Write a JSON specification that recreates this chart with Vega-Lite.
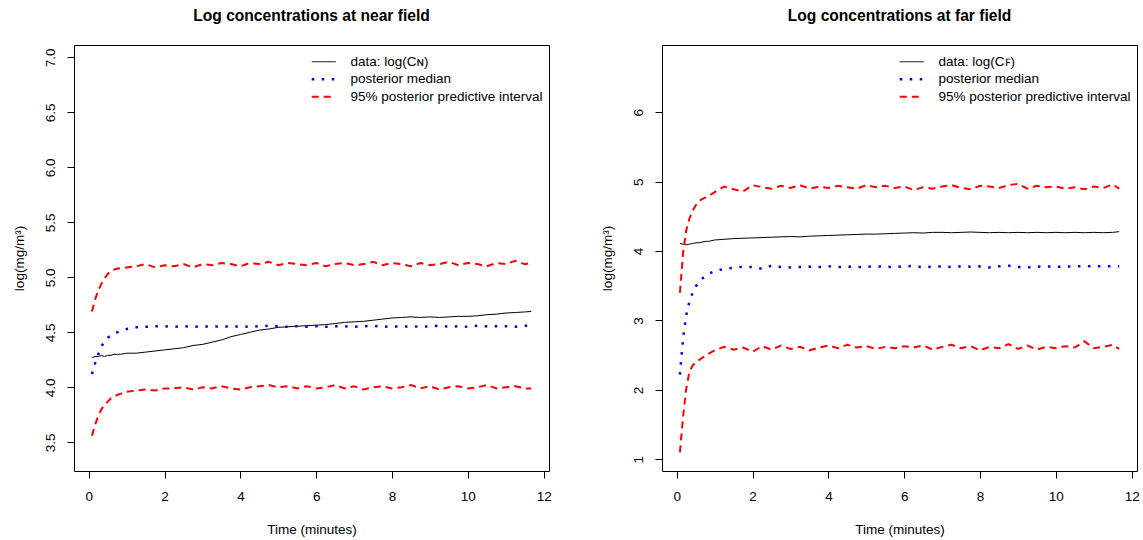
{
  "$schema": "https://vega.github.io/schema/vega-lite/v6.json",
  "padding": {"left": 11, "top": 8, "right": 2, "bottom": 0},
  "background": "white",
  "spacing": 47,
  "config": {
    "view": {"stroke": "black", "strokeWidth": 1},
    "font": "Liberation Sans",
    "title": {"font": "Liberation Sans", "fontSize": 15.6, "fontWeight": "bold", "color": "black", "offset": 20},
    "axis": {"labelFont": "Liberation Sans", "labelFontSize": 13.5, "labelColor": "black", "titleFont": "Liberation Sans", "titleFontSize": 13.5, "titleFontWeight": "normal", "titleColor": "black", "tickColor": "black", "tickSize": 7, "domain": false, "grid": false, "labelFlush": false, "labelOverlap": false},
    "axisX": {"labelPadding": 11, "titlePadding": 20},
    "axisY": {"labelAngle": -90, "labelAlign": "center", "labelBaseline": "bottom", "labelPadding": 10, "titlePadding": 17},
    "legend": {"orient": "none", "labelFont": "Liberation Sans", "labelFontSize": 13.5, "labelColor": "black", "labelLimit": 0, "padding": 0, "rowPadding": 2.5, "symbolType": "M-2.4,0H2.4", "symbolSize": 100, "labelOffset": 20}
  },
  "resolve": {"scale": {"color": "independent"}, "legend": {"color": "independent"}},
  "hconcat": [
    {
      "width": 475,
      "height": 426,
      "title": "Log concentrations at near field",
      "data": {"values": [
        {"t": 0.083, "data": 4.27, "median": 4.12, "lo": 3.56, "hi": 4.69},
        {"t": 0.167, "data": 4.28, "median": 4.22, "lo": 3.66, "hi": 4.80},
        {"t": 0.25, "data": 4.28, "median": 4.30, "lo": 3.74, "hi": 4.88},
        {"t": 0.333, "data": 4.29, "median": 4.37, "lo": 3.80, "hi": 4.94},
        {"t": 0.417, "data": 4.28, "median": 4.42, "lo": 3.84, "hi": 4.99},
        {"t": 0.5, "data": 4.29, "median": 4.45, "lo": 3.87, "hi": 5.03},
        {"t": 0.583, "data": 4.29, "median": 4.47, "lo": 3.90, "hi": 5.06},
        {"t": 0.667, "data": 4.30, "median": 4.49, "lo": 3.92, "hi": 5.07},
        {"t": 0.75, "data": 4.30, "median": 4.50, "lo": 3.93, "hi": 5.08},
        {"t": 0.833, "data": 4.30, "median": 4.51, "lo": 3.94, "hi": 5.08},
        {"t": 1.0, "data": 4.31, "median": 4.53, "lo": 3.96, "hi": 5.09},
        {"t": 1.25, "data": 4.31, "median": 4.545, "lo": 3.97, "hi": 5.10},
        {"t": 1.5, "data": 4.32, "median": 4.55, "lo": 3.98, "hi": 5.12},
        {"t": 1.75, "data": 4.33, "median": 4.555, "lo": 3.97, "hi": 5.09},
        {"t": 2.0, "data": 4.34, "median": 4.555, "lo": 3.99, "hi": 5.11},
        {"t": 2.25, "data": 4.35, "median": 4.55, "lo": 3.99, "hi": 5.10},
        {"t": 2.5, "data": 4.36, "median": 4.555, "lo": 4.00, "hi": 5.12},
        {"t": 2.75, "data": 4.38, "median": 4.55, "lo": 3.98, "hi": 5.09},
        {"t": 3.0, "data": 4.39, "median": 4.555, "lo": 4.00, "hi": 5.12},
        {"t": 3.25, "data": 4.41, "median": 4.55, "lo": 3.99, "hi": 5.11},
        {"t": 3.5, "data": 4.43, "median": 4.555, "lo": 4.01, "hi": 5.13},
        {"t": 3.75, "data": 4.46, "median": 4.55, "lo": 3.99, "hi": 5.12},
        {"t": 4.0, "data": 4.48, "median": 4.555, "lo": 3.98, "hi": 5.10},
        {"t": 4.25, "data": 4.50, "median": 4.55, "lo": 4.00, "hi": 5.13},
        {"t": 4.5, "data": 4.52, "median": 4.555, "lo": 4.01, "hi": 5.12},
        {"t": 4.75, "data": 4.53, "median": 4.56, "lo": 4.02, "hi": 5.14},
        {"t": 5.0, "data": 4.545, "median": 4.555, "lo": 4.00, "hi": 5.11},
        {"t": 5.25, "data": 4.55, "median": 4.55, "lo": 4.01, "hi": 5.13},
        {"t": 5.5, "data": 4.555, "median": 4.555, "lo": 3.99, "hi": 5.12},
        {"t": 5.75, "data": 4.56, "median": 4.55, "lo": 4.01, "hi": 5.11},
        {"t": 6.0, "data": 4.565, "median": 4.555, "lo": 3.99, "hi": 5.13},
        {"t": 6.25, "data": 4.57, "median": 4.55, "lo": 4.00, "hi": 5.10},
        {"t": 6.5, "data": 4.58, "median": 4.555, "lo": 4.02, "hi": 5.12},
        {"t": 6.75, "data": 4.59, "median": 4.555, "lo": 3.99, "hi": 5.13},
        {"t": 7.0, "data": 4.595, "median": 4.55, "lo": 4.01, "hi": 5.11},
        {"t": 7.25, "data": 4.60, "median": 4.555, "lo": 3.98, "hi": 5.12},
        {"t": 7.5, "data": 4.61, "median": 4.56, "lo": 4.00, "hi": 5.14},
        {"t": 7.75, "data": 4.62, "median": 4.55, "lo": 4.01, "hi": 5.11},
        {"t": 8.0, "data": 4.63, "median": 4.555, "lo": 3.99, "hi": 5.13},
        {"t": 8.25, "data": 4.635, "median": 4.55, "lo": 4.00, "hi": 5.12},
        {"t": 8.5, "data": 4.64, "median": 4.555, "lo": 4.02, "hi": 5.10},
        {"t": 8.75, "data": 4.635, "median": 4.55, "lo": 3.99, "hi": 5.13},
        {"t": 9.0, "data": 4.64, "median": 4.555, "lo": 4.01, "hi": 5.11},
        {"t": 9.25, "data": 4.635, "median": 4.56, "lo": 3.98, "hi": 5.12},
        {"t": 9.5, "data": 4.64, "median": 4.55, "lo": 4.00, "hi": 5.14},
        {"t": 9.75, "data": 4.645, "median": 4.555, "lo": 4.01, "hi": 5.11},
        {"t": 10.0, "data": 4.645, "median": 4.55, "lo": 3.99, "hi": 5.13},
        {"t": 10.25, "data": 4.65, "median": 4.56, "lo": 4.00, "hi": 5.12},
        {"t": 10.5, "data": 4.66, "median": 4.555, "lo": 4.02, "hi": 5.10},
        {"t": 10.75, "data": 4.665, "median": 4.555, "lo": 3.99, "hi": 5.13},
        {"t": 11.0, "data": 4.675, "median": 4.555, "lo": 4.00, "hi": 5.12},
        {"t": 11.25, "data": 4.68, "median": 4.55, "lo": 4.01, "hi": 5.15},
        {"t": 11.5, "data": 4.685, "median": 4.56, "lo": 3.99, "hi": 5.12},
        {"t": 11.67, "data": 4.69, "median": 4.56, "lo": 3.99, "hi": 5.13}
      ]},
      "transform": [{"fold": ["data", "median", "lo", "hi"], "as": ["series", "v"]}],
      "encoding": {
        "x": {"field": "t", "type": "quantitative", "scale": {"domain": [-0.39, 12.14], "nice": false, "zero": false}, "axis": {"values": [0, 2, 4, 6, 8, 10, 12], "title": "Time (minutes)"}},
        "y": {"field": "v", "type": "quantitative", "scale": {"domain": [3.239, 7.112], "nice": false, "zero": false}, "axis": {"values": [3.5, 4.0, 4.5, 5.0, 5.5, 6.0, 6.5, 7.0], "format": ".1f", "title": "log(mg/m³)"}},
        "color": {"field": "series", "type": "nominal", "scale": {"domain": ["data", "median", "hi", "lo"], "range": ["#000000", "#0000ff", "#ff0000", "#ff0000"]},
          "legend": {"title": null, "values": ["data", "median", "hi"], "legendX": 243, "legendY": 10,
            "labelExpr": "datum.value === 'data' ? 'data: log(Cɴ)' : datum.value === 'median' ? 'posterior median' : '95% posterior predictive interval'",
            "encode": {"symbols": {"update": {"strokeDash": {"signal": "datum.value === 'median' ? [2.5,7.5] : datum.value === 'hi' ? [7,5] : [1,0]"}, "strokeWidth": {"signal": "datum.value === 'median' ? 2.5 : datum.value === 'hi' ? 2 : 1"}, "fill": {"value": "transparent"}}}}}}
      },
      "layer": [
        {"transform": [{"filter": "datum.series === 'data'"}], "mark": {"type": "line", "strokeWidth": 1}},
        {"transform": [{"filter": "datum.series === 'median'"}], "mark": {"type": "line", "strokeWidth": 2.5, "strokeDash": [2.5, 7.5]}},
        {"transform": [{"filter": "datum.series === 'lo' || datum.series === 'hi'"}], "mark": {"type": "line", "strokeWidth": 2, "strokeDash": [7, 5]}}
      ]
    },
    {
      "width": 475,
      "height": 426,
      "title": "Log concentrations at far field",
      "data": {"values": [
        {"t": 0.083, "data": 4.11, "median": 2.22, "lo": 1.10, "hi": 3.40},
        {"t": 0.167, "data": 4.10, "median": 2.75, "lo": 1.62, "hi": 3.98},
        {"t": 0.25, "data": 4.09, "median": 3.08, "lo": 2.02, "hi": 4.30},
        {"t": 0.333, "data": 4.10, "median": 3.27, "lo": 2.26, "hi": 4.47},
        {"t": 0.417, "data": 4.11, "median": 3.40, "lo": 2.35, "hi": 4.58},
        {"t": 0.5, "data": 4.12, "median": 3.49, "lo": 2.40, "hi": 4.66},
        {"t": 0.583, "data": 4.12, "median": 3.55, "lo": 2.43, "hi": 4.72},
        {"t": 0.667, "data": 4.13, "median": 3.60, "lo": 2.46, "hi": 4.75},
        {"t": 0.75, "data": 4.14, "median": 3.64, "lo": 2.49, "hi": 4.77},
        {"t": 0.833, "data": 4.14, "median": 3.67, "lo": 2.52, "hi": 4.79},
        {"t": 1.0, "data": 4.16, "median": 3.71, "lo": 2.57, "hi": 4.85},
        {"t": 1.25, "data": 4.17, "median": 3.745, "lo": 2.62, "hi": 4.93},
        {"t": 1.5, "data": 4.18, "median": 3.76, "lo": 2.58, "hi": 4.89},
        {"t": 1.75, "data": 4.185, "median": 3.775, "lo": 2.61, "hi": 4.86},
        {"t": 2.0, "data": 4.19, "median": 3.77, "lo": 2.55, "hi": 4.95},
        {"t": 2.25, "data": 4.195, "median": 3.745, "lo": 2.63, "hi": 4.92},
        {"t": 2.5, "data": 4.20, "median": 3.79, "lo": 2.58, "hi": 4.90},
        {"t": 2.75, "data": 4.205, "median": 3.77, "lo": 2.64, "hi": 4.94},
        {"t": 3.0, "data": 4.21, "median": 3.765, "lo": 2.59, "hi": 4.91},
        {"t": 3.25, "data": 4.205, "median": 3.77, "lo": 2.62, "hi": 4.95},
        {"t": 3.5, "data": 4.215, "median": 3.775, "lo": 2.57, "hi": 4.90},
        {"t": 3.75, "data": 4.22, "median": 3.77, "lo": 2.61, "hi": 4.93},
        {"t": 4.0, "data": 4.225, "median": 3.78, "lo": 2.64, "hi": 4.91},
        {"t": 4.25, "data": 4.23, "median": 3.77, "lo": 2.60, "hi": 4.94},
        {"t": 4.5, "data": 4.235, "median": 3.775, "lo": 2.65, "hi": 4.92},
        {"t": 4.75, "data": 4.24, "median": 3.77, "lo": 2.61, "hi": 4.90},
        {"t": 5.0, "data": 4.245, "median": 3.775, "lo": 2.63, "hi": 4.95},
        {"t": 5.25, "data": 4.245, "median": 3.78, "lo": 2.59, "hi": 4.92},
        {"t": 5.5, "data": 4.25, "median": 3.775, "lo": 2.62, "hi": 4.94},
        {"t": 5.75, "data": 4.255, "median": 3.77, "lo": 2.60, "hi": 4.91},
        {"t": 6.0, "data": 4.26, "median": 3.78, "lo": 2.63, "hi": 4.93},
        {"t": 6.25, "data": 4.265, "median": 3.785, "lo": 2.61, "hi": 4.88},
        {"t": 6.5, "data": 4.26, "median": 3.765, "lo": 2.64, "hi": 4.92},
        {"t": 6.75, "data": 4.27, "median": 3.775, "lo": 2.58, "hi": 4.90},
        {"t": 7.0, "data": 4.27, "median": 3.78, "lo": 2.62, "hi": 4.93},
        {"t": 7.25, "data": 4.265, "median": 3.77, "lo": 2.65, "hi": 4.95},
        {"t": 7.5, "data": 4.27, "median": 3.78, "lo": 2.60, "hi": 4.91},
        {"t": 7.75, "data": 4.275, "median": 3.775, "lo": 2.63, "hi": 4.89},
        {"t": 8.0, "data": 4.27, "median": 3.78, "lo": 2.57, "hi": 4.94},
        {"t": 8.25, "data": 4.265, "median": 3.765, "lo": 2.62, "hi": 4.93},
        {"t": 8.5, "data": 4.27, "median": 3.78, "lo": 2.60, "hi": 4.91},
        {"t": 8.75, "data": 4.265, "median": 3.79, "lo": 2.66, "hi": 4.95},
        {"t": 9.0, "data": 4.27, "median": 3.77, "lo": 2.59, "hi": 4.97},
        {"t": 9.25, "data": 4.265, "median": 3.765, "lo": 2.64, "hi": 4.90},
        {"t": 9.5, "data": 4.27, "median": 3.775, "lo": 2.58, "hi": 4.94},
        {"t": 9.75, "data": 4.265, "median": 3.78, "lo": 2.62, "hi": 4.92},
        {"t": 10.0, "data": 4.27, "median": 3.775, "lo": 2.60, "hi": 4.93},
        {"t": 10.25, "data": 4.265, "median": 3.775, "lo": 2.63, "hi": 4.90},
        {"t": 10.5, "data": 4.27, "median": 3.78, "lo": 2.61, "hi": 4.92},
        {"t": 10.75, "data": 4.265, "median": 3.78, "lo": 2.70, "hi": 4.89},
        {"t": 11.0, "data": 4.27, "median": 3.78, "lo": 2.60, "hi": 4.93},
        {"t": 11.25, "data": 4.265, "median": 3.78, "lo": 2.62, "hi": 4.91},
        {"t": 11.5, "data": 4.27, "median": 3.78, "lo": 2.65, "hi": 4.96},
        {"t": 11.67, "data": 4.28, "median": 3.78, "lo": 2.59, "hi": 4.90}
      ]},
      "transform": [{"fold": ["data", "median", "lo", "hi"], "as": ["series", "v"]}],
      "encoding": {
        "x": {"field": "t", "type": "quantitative", "scale": {"domain": [-0.39, 12.14], "nice": false, "zero": false}, "axis": {"values": [0, 2, 4, 6, 8, 10, 12], "title": "Time (minutes)"}},
        "y": {"field": "v", "type": "quantitative", "scale": {"domain": [0.831, 6.97], "nice": false, "zero": false}, "axis": {"values": [1, 2, 3, 4, 5, 6], "format": "d", "title": "log(mg/m³)"}},
        "color": {"field": "series", "type": "nominal", "scale": {"domain": ["data", "median", "hi", "lo"], "range": ["#000000", "#0000ff", "#ff0000", "#ff0000"]},
          "legend": {"title": null, "values": ["data", "median", "hi"], "legendX": 243, "legendY": 10,
            "labelExpr": "datum.value === 'data' ? 'data: log(Cꜰ)' : datum.value === 'median' ? 'posterior median' : '95% posterior predictive interval'",
            "encode": {"symbols": {"update": {"strokeDash": {"signal": "datum.value === 'median' ? [2.5,7.5] : datum.value === 'hi' ? [7,5] : [1,0]"}, "strokeWidth": {"signal": "datum.value === 'median' ? 2.5 : datum.value === 'hi' ? 2 : 1"}, "fill": {"value": "transparent"}}}}}}
      },
      "layer": [
        {"transform": [{"filter": "datum.series === 'data'"}], "mark": {"type": "line", "strokeWidth": 1}},
        {"transform": [{"filter": "datum.series === 'median'"}], "mark": {"type": "line", "strokeWidth": 2.5, "strokeDash": [2.5, 7.5]}},
        {"transform": [{"filter": "datum.series === 'lo' || datum.series === 'hi'"}], "mark": {"type": "line", "strokeWidth": 2, "strokeDash": [7, 5]}}
      ]
    }
  ]
}
